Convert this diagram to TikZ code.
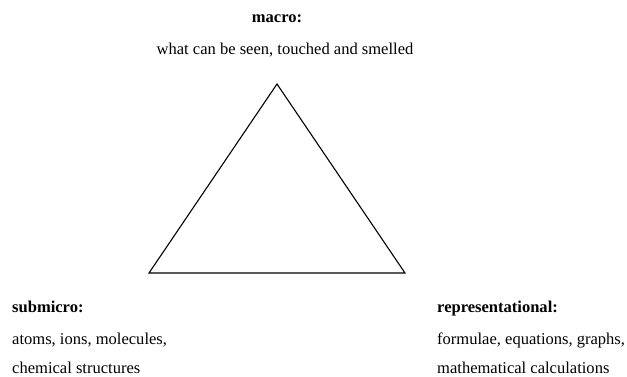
\documentclass[tikz,border=0pt]{standalone}
\usepackage{fontspec}
\setmainfont{Liberation Serif}
\begin{document}
\begin{tikzpicture}[x=1bp,y=1bp,
  lbl/.style={inner sep=0pt,anchor=base west,font=\fontsize{16.6}{18}\selectfont},
  ttl/.style={lbl,font=\fontsize{16.6}{18}\selectfont\bfseries},
  edge/.style={line width=1.1bp,line join=miter}]
\useasboundingbox (0,0) rectangle (627,376);
\coordinate (top) at (277,292);
\coordinate (bl) at (149,103);
\coordinate (br) at (405,103);
\draw[edge] (top) -- (bl) -- (br) -- cycle;
\node[ttl,anchor=base] (macro) at (277,354) {macro:};
\node[lbl,anchor=base] (macrod) at (285,322) {what can be seen, touched and smelled};
\node[ttl] (sub) at (12,64) {submicro:};
\node[lbl] (sub1) at (12,32) {atoms, ions, molecules,};
\node[lbl] (sub2) at (12,3) {chemical structures};
\node[ttl] (rep) at (437,64) {representational:};
\node[lbl] (rep1) at (437,32) {formulae, equations, graphs,};
\node[lbl] (rep2) at (437,3) {mathematical calculations};
\end{tikzpicture}
\end{document}
